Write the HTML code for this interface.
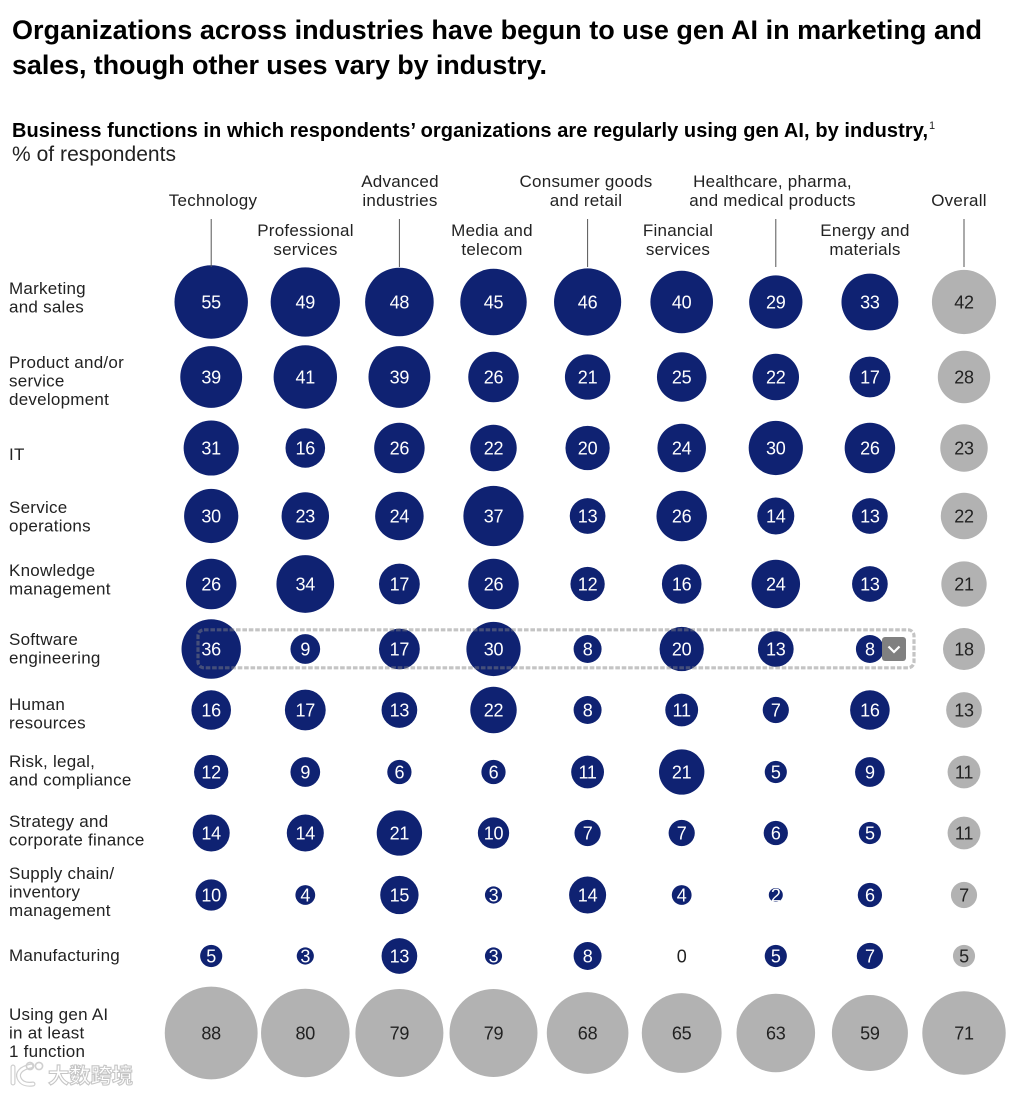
<!DOCTYPE html>
<html lang="en">
<head>
<meta charset="utf-8">
<title>Gen AI use by industry</title>
<style>
html,body{margin:0;padding:0;background:#fff;}
body{width:1034px;height:1094px;overflow:hidden;}
svg{display:block;font-family:"Liberation Sans","Noto Sans CJK SC",sans-serif;}
.title{font-size:27px;font-weight:700;fill:#000;}
.sub{font-size:20px;font-weight:700;fill:#000;}
.unit{font-size:21px;fill:#222;}
.lbl{font-size:17px;letter-spacing:.25px;fill:#222;}
.val{font-size:18px;text-anchor:middle;letter-spacing:-.2px;}
.hdr{text-anchor:middle;}
</style>
</head>
<body>
<svg id="chart" xmlns="http://www.w3.org/2000/svg" width="1034" height="1094" viewBox="0 0 1034 1094">
  <text class="title" x="12" y="39" textLength="970" lengthAdjust="spacing">Organizations across industries have begun to use gen AI in marketing and</text>
  <text class="title" x="12" y="74" textLength="535" lengthAdjust="spacing">sales, though other uses vary by industry.</text>
  <text class="sub" x="12" y="137" textLength="916" lengthAdjust="spacing">Business functions in which respondents’ organizations are regularly using gen AI, by industry,</text>
  <text x="929" y="129" font-size="11" fill="#222">1</text>
  <text class="unit" x="12" y="161" textLength="164" lengthAdjust="spacing">% of respondents</text>
  <g id="marks"></g>
  <g id="labels"></g>
  <g id="headers"></g>
  <rect x="198" y="629.8" width="716" height="38" rx="6" fill="none" stroke="#828282" stroke-opacity="0.475" stroke-width="3.2" stroke-dasharray="4.6 1.8"></rect>
  <g>
    <rect x="882" y="637" width="24" height="24" rx="3" fill="#808080"></rect>
    <path d="M888.5 646.5 L894 652 L899.5 646.5" fill="none" stroke="#fff" stroke-width="2.2"></path>
  </g>
  <g>
    <g fill="none" stroke-linecap="round">
      <path d="M13 1067 V1083 M31 1066 C21 1068 17 1073 19 1078 C21 1083 26 1085 33 1084" stroke="#cfcfcf" stroke-width="5"></path>
      <path d="M13 1067 V1083 M31 1066 C21 1068 17 1073 19 1078 C21 1083 26 1085 33 1084" stroke="#fff" stroke-width="2.6"></path>
      <circle cx="30" cy="1066" r="3.6" stroke="#cfcfcf" stroke-width="1.6"></circle>
      <circle cx="39" cy="1066" r="3.6" stroke="#cfcfcf" stroke-width="1.6"></circle>
    </g>
    <text x="48" y="1083" font-size="21.3" font-weight="700" fill="#fff" stroke="#c6c6c6" stroke-width="1.1" style="font-family:'Noto Sans CJK SC',sans-serif">大数跨境</text>
  </g>
</svg>
<script>
const functionLabels = [
  ["Marketing","and sales"],
  ["Product and/or","service","development"],
  ["IT"],
  ["Service","operations"],
  ["Knowledge","management"],
  ["Software","engineering"],
  ["Human","resources"],
  ["Risk, legal,","and compliance"],
  ["Strategy and","corporate finance"],
  ["Supply chain/","inventory","management"],
  ["Manufacturing"],
  ["Using gen AI","in at least","1 function"]
];
const industryLabels = [
  ["Technology"],
  ["Professional","services"],
  ["Advanced","industries"],
  ["Media and","telecom"],
  ["Consumer goods","and retail"],
  ["Financial","services"],
  ["Healthcare, pharma,","and medical products"],
  ["Energy and","materials"],
  ["Overall"]
];
const technology   = [55,39,31,30,26,36,16,12,14,10,5,88];
const professional = [49,41,16,23,34,9,17,9,14,4,3,80];
const advanced     = [48,39,26,24,17,17,13,6,21,15,13,79];
const media        = [45,26,22,37,26,30,22,6,10,3,3,79];
const consumer     = [46,21,20,13,12,8,8,11,7,14,8,68];
const financial    = [40,25,24,26,16,20,11,21,7,4,0,65];
const healthcare   = [29,22,30,14,24,13,7,5,6,2,5,63];
const energy       = [33,17,26,13,13,8,16,9,5,6,7,59];
const overall      = [42,28,23,22,21,18,13,11,11,7,5,71];
const seriesList = [technology,professional,advanced,media,consumer,financial,healthcare,energy,overall];

const NS = "http://www.w3.org/2000/svg";
function xScale(col){ return 211.2 + col * 94.1; }
function yScale(row){
  const centres = [302,377,448,516,584,649,710,772,833,895,956,1033];
  return centres[row];
}
function rScale(v){ return 4.95 * Math.sqrt(v); }
function make(tag, attrs, parent){
  const el = document.createElementNS(NS, tag);
  for (const k in attrs) el.setAttribute(k, attrs[k]);
  parent.appendChild(el);
  return el;
}
const marks = document.getElementById("marks");
const labels = document.getElementById("labels");
const headers = document.getElementById("headers");
const lastRow = functionLabels.length - 1;
const lastCol = seriesList.length - 1;

seriesList.forEach(function(series, c){
  series.forEach(function(v, r){
    const grey = (c === lastCol || r === lastRow);
    const cx = xScale(c), cy = yScale(r);
    if (v > 0) {
      const dot = make("circle", {cx: cx, cy: cy, r: rScale(v), fill: grey ? "#b2b2b2" : "#0f2272"}, marks);
      
      
    }
    const t = make("text", {x: cx, y: cy + 6.3, class: "val", fill: (grey || v === 0) ? "#222" : "#fff"}, marks);
    
    
    t.textContent = String(v);
  });
});

function labelTop(row){
  const tops = [288,362,454,507,570,639,704,761,821,873,955,1014];
  return tops[row];
}
functionLabels.forEach(function(lines, r){
  lines.forEach(function(line, i){
    const t = make("text", {x: 9, y: labelTop(r) + 5.8 + i * 18.7, class: "lbl"}, labels);
    
    
    t.textContent = line;
  });
});

function headerX(col){
  const xs = [213,305.5,400,492,586,678,772.5,865,959];
  return xs[col];
}
industryLabels.forEach(function(lines, c){
  const tall = c % 2 === 0;
  const lastY = tall ? 206 : 255;
  lines.forEach(function(line, i){
    const y = lastY - (lines.length - 1 - i) * 18.8;
    const t = make("text", {x: headerX(c), y: y, class: "lbl hdr"}, headers);
    
    
    t.textContent = line;
  });
  if (tall) {
    const tick = make("line", {x1: xScale(c), x2: xScale(c), y1: 219, y2: 267, stroke: "#555", "stroke-width": 1}, headers);
    
    
  }
});
</script>
</body>
</html>
